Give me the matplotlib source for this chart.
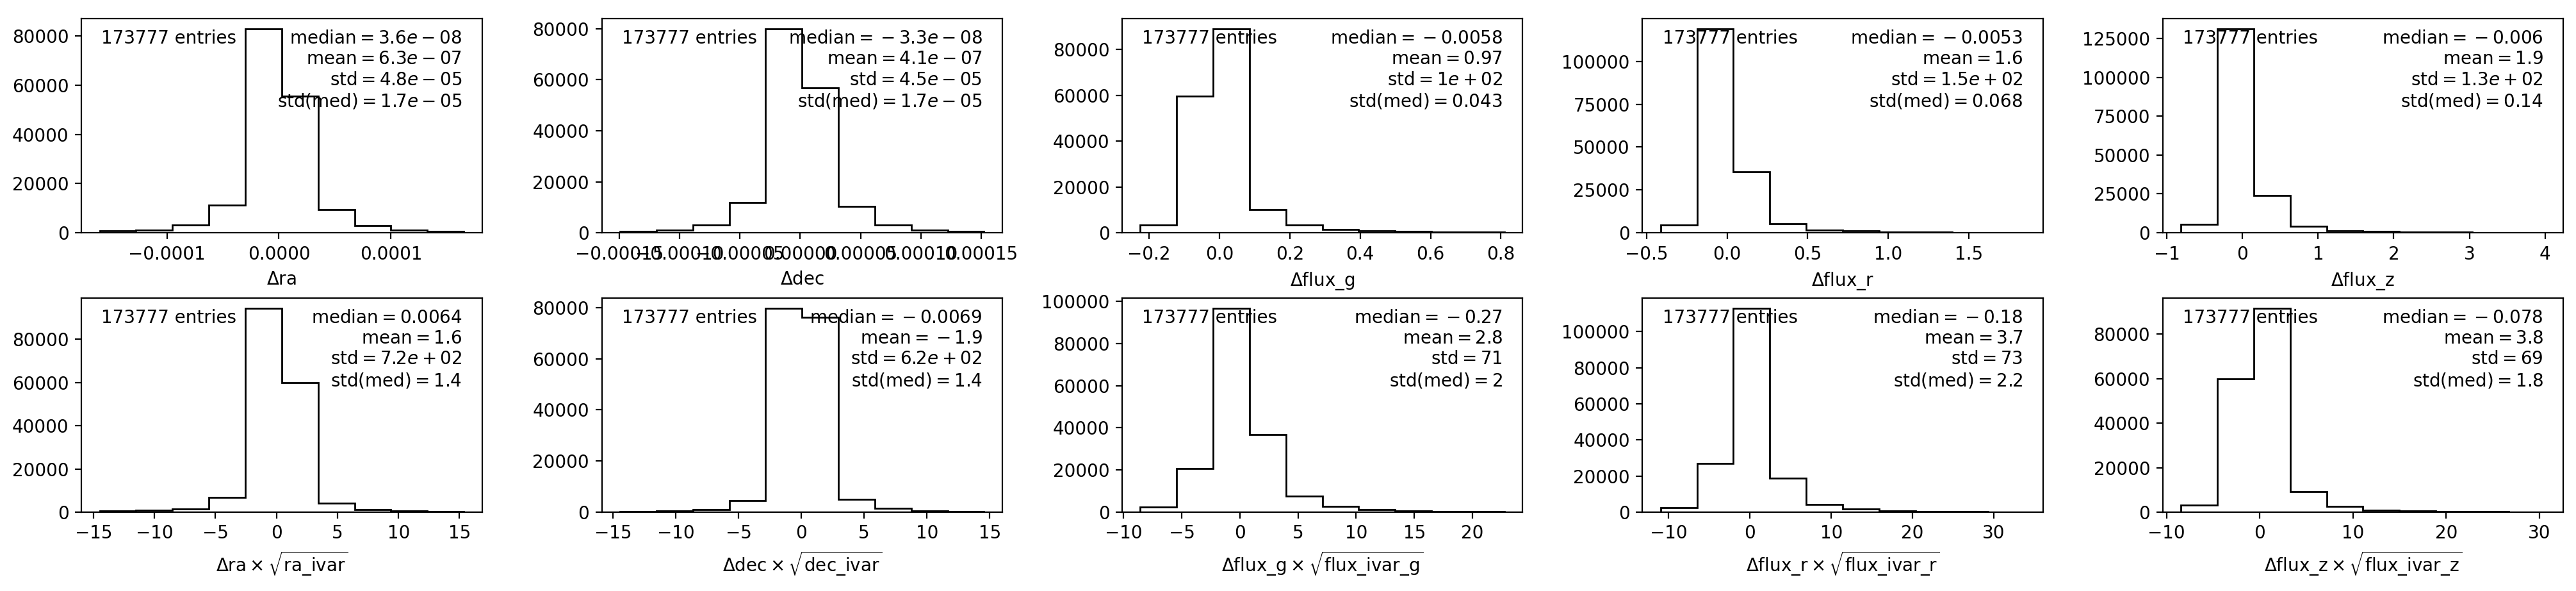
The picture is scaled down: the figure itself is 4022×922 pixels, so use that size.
import numpy as np
import matplotlib
matplotlib.use('Agg')
import matplotlib.pyplot as plt

n_entries = 173777

# column names, top row = raw differences, bottom row = normalised by ivar
cols = ['ra', 'dec', 'flux_g', 'flux_r', 'flux_z']

# bin ranges (10 bins each)
ranges_diff = [(-1.60e-4, 1.65e-4), (-1.494e-4, 1.523e-4), (-0.225, 0.81),
               (-0.412, 1.845), (-0.815, 4.0)]
ranges_norm = [(-14.5, 15.35), (-14.43, 14.55), (-8.57, 22.75),
               (-11.0, 33.8), (-8.45, 30.6)]

counts_diff = [
    [700, 1130, 3040, 11300, 82900, 55400, 9400, 2800, 1130, 600],
    [600, 1100, 3100, 11800, 80000, 56900, 10250, 2950, 1000, 600],
    [3460, 59600, 89000, 10000, 3460, 1400, 750, 470, 280, 190],
    [4600, 119000, 35500, 5400, 1600, 1000, 400, 250, 150, 100],
    [5500, 131200, 24000, 4000, 1400, 800, 400, 280, 150, 100],
]
counts_norm = [
    [500, 800, 1400, 6700, 94300, 59850, 4050, 1300, 700, 400],
    [330, 580, 1090, 4500, 79700, 76200, 5000, 1400, 580, 330],
    [2430, 20650, 96660, 36740, 7590, 2630, 1210, 610, 300, 200],
    [2600, 27000, 113000, 18700, 4380, 1900, 830, 470, 240, 120],
    [3070, 60000, 91700, 9200, 2600, 860, 580, 290, 190, 100],
]

# median, mean, std, std(med)
stats_diff = [
    (3.6e-08, 6.3e-07, 4.8e-05, 1.7e-05),
    (-3.3e-08, 4.1e-07, 4.5e-05, 1.7e-05),
    (-0.0058, 0.97, 1e+02, 0.043),
    (-0.0053, 1.6, 1.5e+02, 0.068),
    (-0.006, 1.9, 1.3e+02, 0.14),
]
stats_norm = [
    (0.0064, 1.6, 7.2e+02, 1.4),
    (-0.0069, -1.9, 6.2e+02, 1.4),
    (-0.27, 2.8, 71, 2),
    (-0.18, 3.7, 73, 2.2),
    (-0.078, 3.8, 69, 1.8),
]


def fmt(v):
    # leading minus gets binary spacing like the old mathtext did
    s = '%.2g' % v
    if s.startswith('-'):
        s = '{}' + s
    return s


def stat_text(st):
    return '\n'.join([r'$\mathrm{median} = %s$' % fmt(st[0]),
                      r'$\mathrm{mean} = %s$' % fmt(st[1]),
                      r'$\mathrm{std} = %s$' % fmt(st[2]),
                      r'$\mathrm{std(med)} = %s$' % fmt(st[3])])


def draw(ax, counts, rng, st, xlabel):
    edges = np.linspace(rng[0], rng[1], len(counts) + 1)
    centers = 0.5 * (edges[1:] + edges[:-1])
    ax.hist(centers, bins=len(counts), range=rng, weights=counts,
            histtype='step', color='k')
    ax.set_xlabel(xlabel)
    ax.text(0.05, 0.95, '%d entries' % n_entries, transform=ax.transAxes,
            ha='left', va='top')
    ax.text(0.95, 0.95, stat_text(st), transform=ax.transAxes,
            ha='right', va='top', multialignment='right')


fig, axes = plt.subplots(2, 5, figsize=(20.115, 4.61), dpi=200)
fig.subplots_adjust(left=0.0316, right=0.9948, top=0.9685, bottom=0.1334,
                    wspace=0.299, hspace=0.305)

for i, c in enumerate(cols):
    cname = c.replace('_', r'\_')
    if c.startswith('flux'):
        ivar = 'flux\\_ivar\\_' + c.split('_')[1]
    else:
        ivar = cname + r'\_ivar'
    draw(axes[0, i], counts_diff[i], ranges_diff[i], stats_diff[i],
         r'$\Delta\mathrm{%s}$' % cname)
    draw(axes[1, i], counts_norm[i], ranges_norm[i], stats_norm[i],
         r'$\Delta\mathrm{%s}\times\sqrt{\mathrm{%s}}$' % (cname, ivar))

fig.savefig('out.png', dpi=200)
